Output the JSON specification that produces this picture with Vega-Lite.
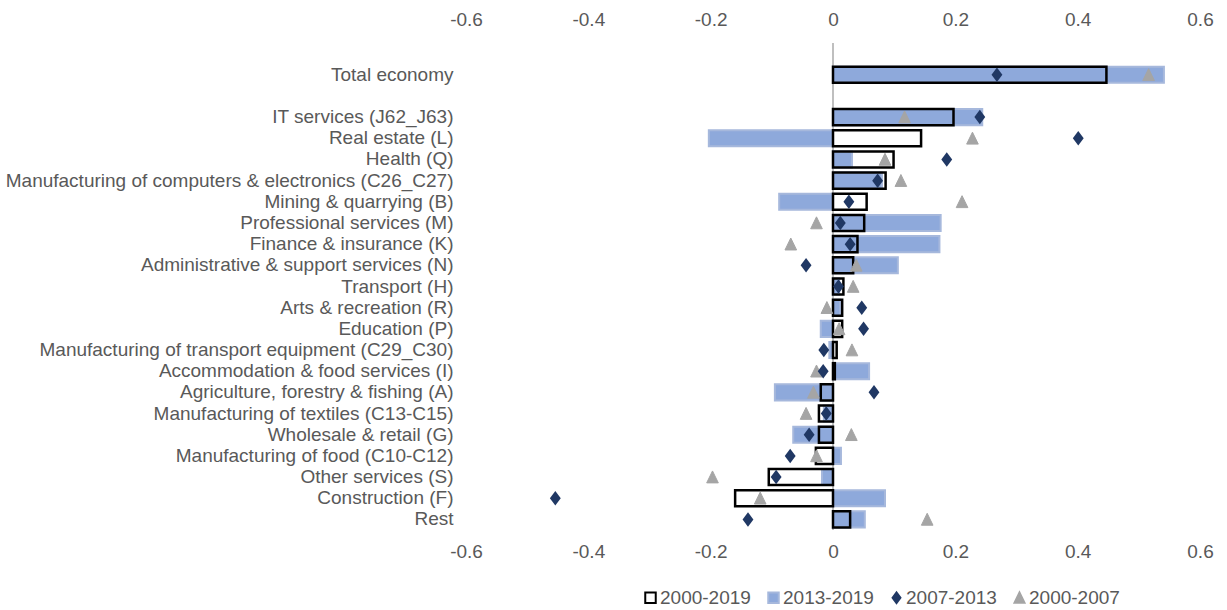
{
  "$schema": "https://vega.github.io/schema/vega-lite/v6.json",
  "autosize": {"type": "none"},
  "width": 734,
  "height": 487,
  "padding": {"left": 466, "top": 43, "right": 27, "bottom": 80},
  "background": "white",
  "config": {
    "font": "Liberation Sans",
    "view": {"stroke": null},
    "axis": {"labelFont": "Liberation Sans", "labelFontSize": 19, "labelColor": "#595959", "domain": false, "ticks": false, "tickSize": 0, "grid": false, "title": null, "labelLimit": 0},
    "legend": {"labelFont": "Liberation Sans", "labelFontSize": 19, "labelColor": "#595959"}
  },
  "data": {
    "values": [
      {"cat": "Total economy", "2000-2019": 0.447, "2013-2019": 0.541, "2007-2013": 0.268, "2000-2007": 0.516},
      {"cat": "IT services (J62_J63)", "2000-2019": 0.197, "2013-2019": 0.244, "2007-2013": 0.240, "2000-2007": 0.117},
      {"cat": "Real estate (L)", "2000-2019": 0.144, "2013-2019": -0.203, "2007-2013": 0.401, "2000-2007": 0.228},
      {"cat": "Health (Q)", "2000-2019": 0.099, "2013-2019": 0.031, "2007-2013": 0.186, "2000-2007": 0.085},
      {"cat": "Manufacturing of computers & electronics (C26_C27)", "2000-2019": 0.086, "2013-2019": 0.080, "2007-2013": 0.073, "2000-2007": 0.111},
      {"cat": "Mining & quarrying (B)", "2000-2019": 0.055, "2013-2019": -0.088, "2007-2013": 0.026, "2000-2007": 0.211},
      {"cat": "Professional services (M)", "2000-2019": 0.051, "2013-2019": 0.176, "2007-2013": 0.012, "2000-2007": -0.027},
      {"cat": "Finance & insurance (K)", "2000-2019": 0.040, "2013-2019": 0.174, "2007-2013": 0.028, "2000-2007": -0.069},
      {"cat": "Administrative & support services (N)", "2000-2019": 0.033, "2013-2019": 0.106, "2007-2013": -0.044, "2000-2007": 0.038},
      {"cat": "Transport (H)", "2000-2019": 0.017, "2013-2019": 0.010, "2007-2013": 0.009, "2000-2007": 0.033},
      {"cat": "Arts & recreation (R)", "2000-2019": 0.015, "2013-2019": 0.012, "2007-2013": 0.047, "2000-2007": -0.010},
      {"cat": "Education (P)", "2000-2019": 0.015, "2013-2019": -0.020, "2007-2013": 0.050, "2000-2007": 0.010},
      {"cat": "Manufacturing of transport equipment (C29_C30)", "2000-2019": 0.006, "2013-2019": -0.006, "2007-2013": -0.015, "2000-2007": 0.031},
      {"cat": "Accommodation & food services (I)", "2000-2019": 0.003, "2013-2019": 0.059, "2007-2013": -0.016, "2000-2007": -0.027},
      {"cat": "Agriculture, forestry & fishing (A)", "2000-2019": -0.020, "2013-2019": -0.095, "2007-2013": 0.067, "2000-2007": -0.032},
      {"cat": "Manufacturing of textiles (C13-C15)", "2000-2019": -0.023, "2013-2019": -0.015, "2007-2013": -0.011, "2000-2007": -0.044},
      {"cat": "Wholesale & retail (G)", "2000-2019": -0.023, "2013-2019": -0.065, "2007-2013": -0.039, "2000-2007": 0.030},
      {"cat": "Manufacturing of food (C10-C12)", "2000-2019": -0.028, "2013-2019": 0.013, "2007-2013": -0.070, "2000-2007": -0.027},
      {"cat": "Other services (S)", "2000-2019": -0.105, "2013-2019": -0.018, "2007-2013": -0.093, "2000-2007": -0.197},
      {"cat": "Construction (F)", "2000-2019": -0.160, "2013-2019": 0.085, "2007-2013": -0.454, "2000-2007": -0.119},
      {"cat": "Rest", "2000-2019": 0.028, "2013-2019": 0.052, "2007-2013": -0.139, "2000-2007": 0.154}
    ]
  },
  "transform": [
    {"fold": ["2000-2019", "2013-2019", "2007-2013", "2000-2007"], "as": ["series", "value"]}
  ],
  "resolve": {"axis": {"x": "independent"}},
  "layer": [
    {
      "mark": {"type": "rule", "color": "#BFBFBF", "strokeWidth": 1.5},
      "encoding": {
        "x": {"datum": 0, "type": "quantitative",
          "scale": {"domain": [-0.6, 0.6], "nice": false},
          "axis": {"orient": "top", "values": [-0.6, -0.4, -0.2, 0, 0.2, 0.4, 0.6], "labelPadding": 14, "labelFlush": false,
            "labelExpr": "datum.value == 0 ? '0' : replace(format(datum.value, '.1f'), '\u2212', '-')"}}
      }
    },
    {
      "transform": [{"filter": "datum.series == '2013-2019'"}],
      "mark": {"type": "bar", "strokeWidth": 2},
      "encoding": {
        "y": {"field": "cat", "type": "nominal",
          "scale": {"domain": ["_b1", "Total economy", "_b2", "IT services (J62_J63)", "Real estate (L)", "Health (Q)", "Manufacturing of computers & electronics (C26_C27)", "Mining & quarrying (B)", "Professional services (M)", "Finance & insurance (K)", "Administrative & support services (N)", "Transport (H)", "Arts & recreation (R)", "Education (P)", "Manufacturing of transport equipment (C29_C30)", "Accommodation & food services (I)", "Agriculture, forestry & fishing (A)", "Manufacturing of textiles (C13-C15)", "Wholesale & retail (G)", "Manufacturing of food (C10-C12)", "Other services (S)", "Construction (F)", "Rest"], "paddingInner": 0.24, "paddingOuter": 0.12},
          "axis": {"labelPadding": 13, "labelLimit": 0, "labelExpr": "indexof(datum.value, '_b') == 0 ? '' : datum.value"}},
        "x": {"field": "value", "type": "quantitative",
          "axis": {"orient": "bottom", "values": [-0.6, -0.4, -0.2, 0, 0.2, 0.4, 0.6], "labelPadding": 12, "labelFlush": false,
            "labelExpr": "datum.value == 0 ? '0' : replace(format(datum.value, '.1f'), '\u2212', '-')"}},
        "fill": {"field": "series", "type": "nominal",
          "scale": {"domain": ["2000-2019", "2013-2019", "2007-2013", "2000-2007"], "range": ["#FFFFFF", "#8EA9DB", "#203864", "#A5A5A5"]},
          "legend": {"title": null, "orient": "none", "legendX": 175, "legendY": 545, "direction": "horizontal", "symbolSize": 110, "symbolStrokeWidth": 2, "symbolOpacity": 1, "columnPadding": 13, "labelOffset": 0}},
        "stroke": {"field": "series", "type": "nominal",
          "scale": {"domain": ["2000-2019", "2013-2019", "2007-2013", "2000-2007"], "range": ["#000000", "#A6B8DC", "#203864", "#A5A5A5"]},
          "legend": {"title": null, "orient": "none", "legendX": 175, "legendY": 545, "direction": "horizontal", "symbolSize": 110, "symbolStrokeWidth": 2, "symbolOpacity": 1, "columnPadding": 13, "labelOffset": 0}}
      }
    },
    {
      "transform": [{"filter": "datum.series == '2000-2019'"}],
      "mark": {"type": "bar", "fillOpacity": 0, "stroke": "#000000", "strokeWidth": 2.5},
      "encoding": {
        "y": {"field": "cat", "type": "nominal"},
        "x": {"field": "value", "type": "quantitative", "axis": null}
      }
    },
    {
      "transform": [{"filter": "datum.series == '2000-2007'"}],
      "mark": {"type": "point", "filled": true, "opacity": 1, "size": 150, "strokeWidth": 1},
      "encoding": {
        "y": {"field": "cat", "type": "nominal"},
        "x": {"field": "value", "type": "quantitative", "axis": null},
        "fill": {"field": "series", "type": "nominal"},
        "stroke": {"field": "series", "type": "nominal"},
        "shape": {"field": "series", "type": "nominal",
          "scale": {"domain": ["2000-2019", "2013-2019", "2007-2013", "2000-2007"], "range": ["square", "square", "M-0.75,0L0,-1L0.75,0L0,1Z", "M0,-1L-0.95,0.95L0.95,0.95Z"]},
          "legend": {"title": null, "orient": "none", "legendX": 175, "legendY": 545, "direction": "horizontal", "symbolSize": 110, "symbolStrokeWidth": 2, "symbolOpacity": 1, "columnPadding": 13, "labelOffset": 0}}
      }
    },
    {
      "transform": [{"filter": "datum.series == '2007-2013'"}],
      "mark": {"type": "point", "filled": true, "opacity": 1, "size": 210, "strokeWidth": 0},
      "encoding": {
        "y": {"field": "cat", "type": "nominal"},
        "x": {"field": "value", "type": "quantitative", "axis": null},
        "fill": {"field": "series", "type": "nominal"},
        "shape": {"field": "series", "type": "nominal"}
      }
    }
  ]
}
